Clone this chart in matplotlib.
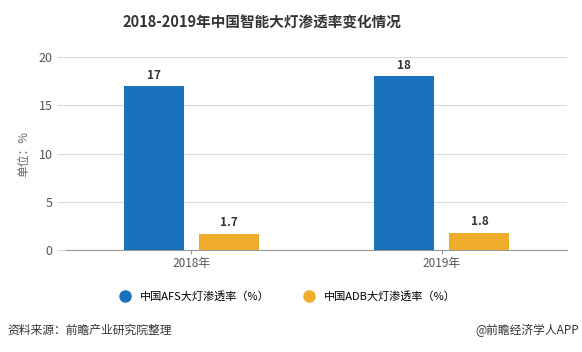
import matplotlib.pyplot as plt
from matplotlib.lines import Line2D
import numpy as np

plt.rcParams['font.family'] = ['Noto Sans CJK SC', 'DejaVu Sans']

years = ['2018年', '2019年']
afs = [17, 18]
adb = [1.7, 1.8]
afs_name = '中国AFS大灯渗透率（%）'
adb_name = '中国ADB大灯渗透率（%）'

blue = '#1a71bd'
orange = '#efac2b'

fig = plt.figure(figsize=(5.82, 3.52), dpi=100)
ax = fig.add_axes([0.1134, 0.2898, 0.861, 0.548])

x = np.arange(len(years))
w = 0.24
b1 = ax.bar(x - 0.15, afs, w, color=blue, zorder=3)
b2 = ax.bar(x + 0.15, adb, w, color=orange, zorder=3)

# value labels
for bars, vals in ((b1, afs), (b2, adb)):
    for r, v in zip(bars, vals):
        ax.text(r.get_x() + r.get_width() / 2, v + 0.45, str(v), ha='center', va='bottom',
                fontsize=8.5, fontweight='bold', color='#333333')

ax.set_xlim(-0.5, 1.5)
ax.set_ylim(0, 20)
ax.set_yticks([0, 5, 10, 15, 20])
ax.set_xticks(x)
ax.set_xticklabels(years)
ax.grid(axis='y', color='#d9d9d9', linewidth=0.8, zorder=0)
for s in ['top', 'right', 'left']:
    ax.spines[s].set_visible(False)
ax.spines['bottom'].set_color('#999999')
ax.tick_params(axis='y', length=6.5, color='#d9d9d9', labelsize=9, labelcolor='#555555', pad=3)
ax.tick_params(axis='x', length=3, color='#999999', labelsize=8.5, labelcolor='#555555', pad=2)
ax.set_ylabel('单位：%', fontsize=8.5, color='#666666', labelpad=6)

fig.text(0.45, 0.935, '2018-2019年中国智能大灯渗透率变化情况', ha='center', va='center',
         fontsize=10.5, fontweight='bold', color='#333333')

# legend with round markers
handles = [Line2D([], [], marker='o', linestyle='none', markersize=8, color=blue),
           Line2D([], [], marker='o', linestyle='none', markersize=8, color=orange)]
fig.legend(handles, [afs_name, adb_name], loc='center', bbox_to_anchor=(0.495, 0.157), ncol=2,
           frameon=False, fontsize=8, handlelength=0.8, columnspacing=3.2, handletextpad=0.9)

fig.text(0.012, 0.062, '资料来源：前瞻产业研究院整理', ha='left', va='center', fontsize=8.5, color='#333333')
fig.text(0.995, 0.062, '@前瞻经济学人APP', ha='right', va='center', fontsize=8.5, color='#333333')

fig.savefig('out.png', dpi=100)
